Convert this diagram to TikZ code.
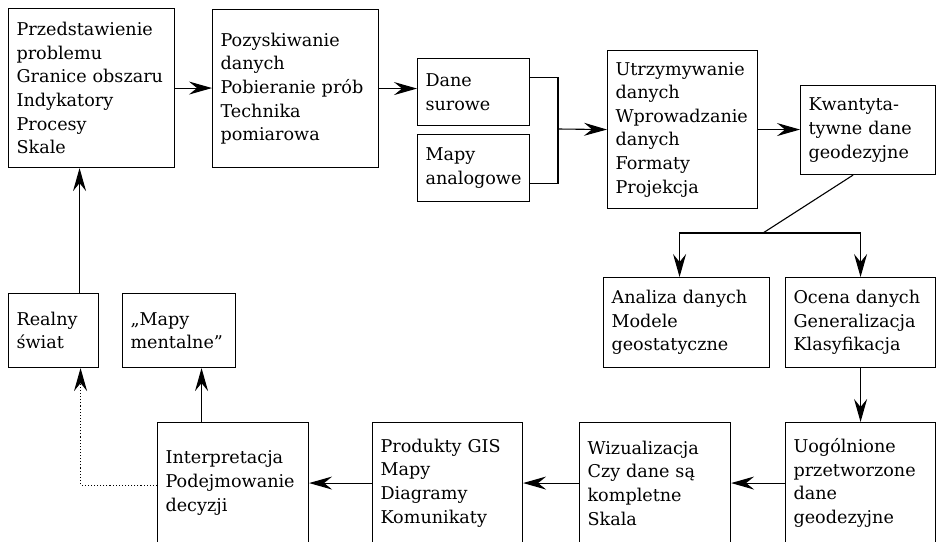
\documentclass[tikz,border=0pt]{standalone}
\usepackage{fontspec}
\setmainfont{DejaVu Serif}
\usetikzlibrary{arrows.meta, calc}

\begin{document}
\begin{tikzpicture}[x=1pt, y=-1pt, line width=1.1pt,
    blok/.style={draw, anchor=north west, align=left, inner xsep=8pt, inner ysep=0pt,
        font=\fontsize{17.6}{23.6}\selectfont},
    pijl/.style={-{Stealth[length=23pt, width=13pt, inset=8pt]}}]
    \useasboundingbox (0,0) rectangle (936,541);
    \clip (-2,-2) rectangle (938,541);

    \node[blok, text width=150pt, minimum height=159pt] (problem) at (8,8)
        {Przedstawienie\\problemu\\Granice~obszaru\\Indykatory\\Procesy\\Skale};
    \node[blok, text width=150pt, minimum height=158pt] (pozysk) at (212,9)
        {Pozyskiwanie\\danych\\Pobieranie~prób\\Technika\\pomiarowa};
    \node[blok, text width=96pt, minimum height=67pt] (surowe) at (417,58)
        {Dane\\surowe};
    \node[blok, text width=96pt, minimum height=67pt] (analog) at (417,134)
        {Mapy\\analogowe};
    \node[blok, text width=134pt, minimum height=158pt] (utrzym) at (607,50)
        {Utrzymywanie\\danych\\Wprowadzanie\\danych\\Formaty\\Projekcja};
    \node[blok, text width=119pt, minimum height=89pt] (kwant) at (800,85)
        {Kwantyta-\\tywne~dane\\geodezyjne};

    \node[blok, text width=150pt, minimum height=90pt] (analiza) at (603,277)
        {Analiza~danych\\Modele\\geostatyczne};
    \node[blok, text width=134pt, minimum height=90pt] (ocena) at (785,277)
        {Ocena~danych\\Generalizacja\\Klasyfikacja};

    \node[blok, text width=134pt, minimum height=121pt] (uogol) at (785,422)
        {Uogólnione\\przetworzone\\dane\\geodezyjne};
    \node[blok, text width=135pt, minimum height=121pt] (wizual) at (579,422)
        {Wizualizacja\\Czy~dane~są\\kompletne\\Skala};
    \node[blok, text width=134pt, minimum height=121pt] (produkty) at (372,422)
        {Produkty~GIS\\Mapy\\Diagramy\\Komunikaty};
    \node[blok, text width=135pt, minimum height=121pt] (interp) at (157,422)
        {Interpretacja\\Podejmowanie\\decyzji};

    \node[blok, text width=74pt, minimum height=74pt] (realny) at (8,293)
        {Realny\\świat};
    \node[blok, text width=97pt, minimum height=74pt] (mentalne) at (122,293)
        {„Mapy\\mentalne”};

    \coordinate (zbieg) at (558,129);
    \coordinate (rozgal) at (763,233);

    \draw[pijl] (problem.east) -- (problem.east -| pozysk.west);
    \draw[pijl] (pozysk.east) -- (pozysk.east -| surowe.west);
    \draw ([yshift=14.5pt]surowe.east) -| (zbieg);
    \draw ([yshift=-15.5pt]analog.east) -| (zbieg);
    \draw[pijl] (zbieg) -- (utrzym.west);
    \draw[pijl] (utrzym.east) -- (utrzym.east -| kwant.west);

    \draw ([xshift=-15pt]kwant.south) -- (rozgal);
    \draw[pijl] (rozgal) -| ([xshift=-7pt]analiza.north);
    \draw[pijl] (rozgal) -| (ocena.north);
    \draw[pijl] (ocena.south) -- (ocena.south |- uogol.north);

    \draw[pijl] (uogol.west) -- (uogol.west -| wizual.east);
    \draw[pijl] (wizual.west) -- (wizual.west -| produkty.east);
    \draw[pijl] (produkty.west) -- (produkty.west -| interp.east);
    \draw[pijl] ([xshift=-31.5pt]interp.north) -- ([xshift=-31.5pt]interp.north |- mentalne.south);
    \draw[pijl, dotted] ([yshift=-2pt]interp.west) -| ([xshift=27pt]realny.south);
    \draw[pijl] ([xshift=26pt]realny.north) -- ([xshift=26pt]realny.north |- problem.south);
\end{tikzpicture}
\end{document}
